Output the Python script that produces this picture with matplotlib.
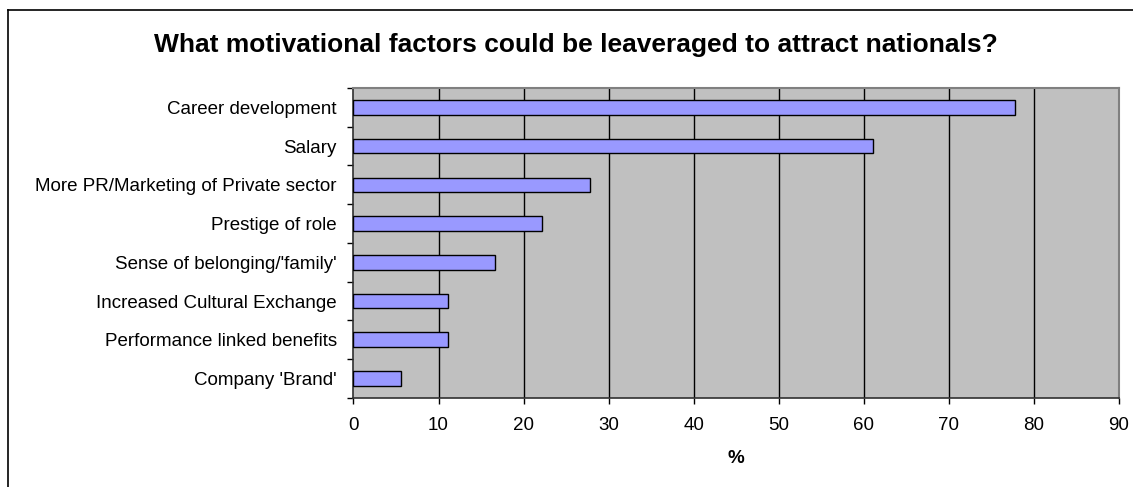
import matplotlib.pyplot as plt
from matplotlib.lines import Line2D
import numpy as np

plt.rcParams['font.family'] = ['Liberation Sans', 'DejaVu Sans']

# Survey answers, % of respondents
factors = ["Career development", "Salary", "More PR/Marketing of Private sector",
           "Prestige of role", "Sense of belonging/'family'", "Increased Cultural Exchange",
           "Performance linked benefits", "Company 'Brand'"]
percent = [77.8, 61.1, 27.8, 22.2, 16.7, 11.1, 11.1, 5.6]
xticks = [0, 10, 20, 30, 40, 50, 60, 70, 80, 90]

fig = plt.figure(figsize=(11.33, 4.87), dpi=100)
ax = fig.add_axes([0.312, 0.1828, 0.6754, 0.6365])
ax.set_facecolor('#C0C0C0')

y = np.arange(len(factors))
ax.barh(y, percent, height=0.38, color='#9999FF', edgecolor='black', linewidth=1.0, zorder=3)

ax.set_xlim(0, 90)
ax.set_ylim(len(factors) - 0.5, -0.5)
ax.set_xticks(xticks)
ax.set_xticklabels([str(t) for t in xticks], fontsize=13.5)
ax.tick_params(axis='x', direction='out', length=4.5, width=1, pad=9)

# category labels sit between the boundary ticks
ax.set_yticks(y)
ax.set_yticklabels(factors, fontsize=13.5)
ax.set_yticks(np.arange(len(factors) + 1) - 0.5, minor=True)
ax.tick_params(axis='y', which='major', length=0, pad=12)
ax.tick_params(axis='y', which='minor', direction='out', length=4.5, width=1)

for t in xticks[1:-1]:
    ax.axvline(t, color='black', linewidth=1.0, zorder=2)

for side in ['top', 'right']:
    ax.spines[side].set_color('#808080')
    ax.spines[side].set_linewidth(1.5)
for side in ['left', 'bottom']:
    ax.spines[side].set_color('#303030')
    ax.spines[side].set_linewidth(1.2)

ax.set_xlabel('%', fontsize=13.5, fontweight='bold', labelpad=12)

fig.text(0.508, 0.893, 'What motivational factors could be leaveraged to attract nationals?',
         ha='center', va='baseline', fontsize=19, fontweight='bold')

# chart frame
fig.add_artist(Line2D([0.0071, 0.0071], [0, 0.979], color='black', linewidth=1.2))
fig.add_artist(Line2D([0.0071, 1], [0.979, 0.979], color='black', linewidth=1.2))

fig.savefig('out.png', dpi=100)
